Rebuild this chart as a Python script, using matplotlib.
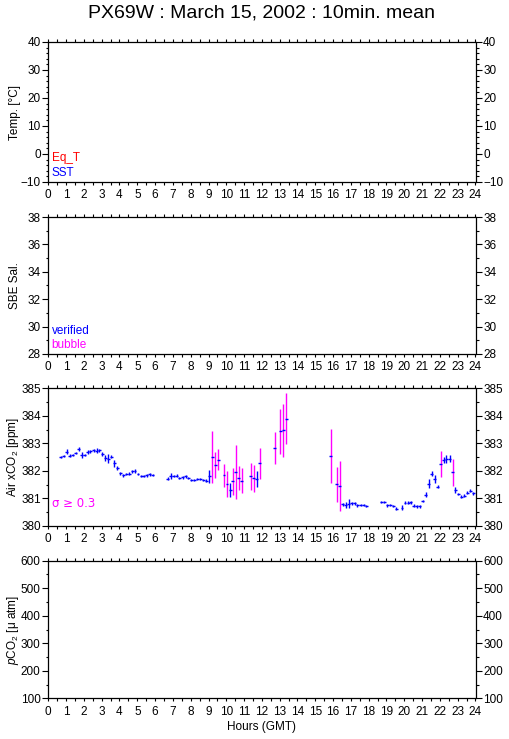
import matplotlib
matplotlib.use("Agg")
import matplotlib.pyplot as plt
from matplotlib.ticker import MultipleLocator
import numpy as np

plt.rcParams['font.family'] = ['Liberation Sans', 'DejaVu Sans']
plt.rcParams['mathtext.fontset'] = 'custom'
plt.rcParams['mathtext.rm'] = 'Liberation Sans'
plt.rcParams['mathtext.it'] = 'Liberation Sans:italic'

title = "PX69W : March 15, 2002 : 10min. mean"

# Air xCO2 10-min means (hours GMT, ppm, std)
hours = [0.71, 0.87, 1.04, 1.21, 1.37, 1.54, 1.71, 1.87, 2.04, 2.21, 2.37, 2.54,
         2.71, 2.87, 3.04, 3.21, 3.37, 3.54, 3.71, 3.87, 4.04, 4.21, 4.37, 4.54,
         4.71, 4.87, 5.04, 5.21, 5.37, 5.54, 5.71, 5.87,
         6.71, 6.87, 7.04, 7.21, 7.37, 7.54, 7.71, 7.87, 8.04, 8.21, 8.37, 8.54,
         8.71, 8.87, 9.04, 9.21, 9.37, 9.54, 9.87, 10.04, 10.21, 10.37, 10.54,
         10.71, 10.87, 11.37, 11.54, 11.71, 11.87, 12.71, 13.04, 13.21, 13.37,
         15.87, 16.21, 16.37, 16.54, 16.71, 16.87, 17.04, 17.21, 17.37, 17.54,
         17.71, 17.87, 18.71, 18.87, 19.04, 19.21, 19.37, 19.54, 19.87, 20.04,
         20.21, 20.37, 20.54, 20.71, 20.87, 21.04, 21.21, 21.37, 21.54, 21.71,
         21.87, 22.04, 22.21, 22.37, 22.54, 22.71, 22.87, 23.04, 23.21, 23.37,
         23.54, 23.71, 23.87]
xco2 = [382.51, 382.53, 382.70, 382.55, 382.59, 382.65, 382.80, 382.58, 382.58,
        382.68, 382.71, 382.75, 382.74, 382.75, 382.60, 382.46, 382.45, 382.52,
        382.28, 382.10, 381.91, 381.84, 381.89, 381.90, 381.99, 382.00, 381.89,
        381.82, 381.83, 381.84, 381.88, 381.86,
        381.72, 381.83, 381.82, 381.83, 381.74, 381.77, 381.80, 381.74, 381.67,
        381.68, 381.70, 381.70, 381.67, 381.64, 381.80, 382.51, 382.21, 382.41,
        381.84, 381.53, 381.31, 381.62, 381.97, 381.75, 381.65, 381.80, 381.73,
        381.71, 382.27, 382.84, 383.44, 383.48, 383.90,
        382.55, 381.51, 381.46, 380.79, 380.76, 380.81, 380.82, 380.82, 380.75,
        380.75, 380.75, 380.73, 380.87, 380.87, 380.75, 380.75, 380.73, 380.63,
        380.67, 380.84, 380.84, 380.86, 380.74, 380.72, 380.72, 380.91, 381.14,
        381.53, 381.89, 381.72, 381.43, 382.25, 382.39, 382.42, 382.45, 381.95,
        381.31, 381.16, 381.07, 381.10, 381.21, 381.28, 381.19]
sigma = [0.04, 0.03, 0.08, 0.06, 0.04, 0.05, 0.08, 0.12, 0.05, 0.07, 0.05, 0.06,
         0.10, 0.05, 0.07, 0.10, 0.15, 0.06, 0.12, 0.08, 0.06, 0.05, 0.05, 0.06,
         0.05, 0.06, 0.04, 0.04, 0.04, 0.05, 0.06, 0.04,
         0.05, 0.11, 0.05, 0.06, 0.05, 0.05, 0.05, 0.04, 0.04, 0.04, 0.04, 0.04,
         0.04, 0.05, 0.24, 0.94, 0.47, 0.38, 0.41, 0.47, 0.24, 0.49, 0.98, 0.43,
         0.46, 0.50, 0.48, 0.28, 0.56, 0.58, 0.81, 0.96, 0.92,
         0.98, 0.63, 0.90, 0.05, 0.10, 0.17, 0.05, 0.05, 0.05, 0.04, 0.04, 0.04,
         0.05, 0.04, 0.05, 0.04, 0.04, 0.05, 0.08, 0.05, 0.05, 0.05, 0.05, 0.05,
         0.05, 0.05, 0.10, 0.16, 0.09, 0.15, 0.05, 0.48, 0.10, 0.14, 0.13, 0.50,
         0.12, 0.05, 0.04, 0.05, 0.06, 0.05, 0.05]

sigma_limit = 0.3
half_interval = 1.0 / 12.0  # +/- 5 min

panel_ylabels = ["Temp. [°C]", "SBE Sal.", "Air xCO$_2$ [ppm]", "$p$CO$_2$ [μ atm]"]
panel_ylims = [(-10, 40), (28, 38), (380, 385), (100, 600)]
panel_major = [10, 2, 1, 100]
panel_minor = [2, 1, 0.5, 50]
xticks = list(range(0, 25))

W, H = 509, 739
fig = plt.figure(figsize=(W / 100, H / 100), dpi=100)

panel_px = [(42, 182), (217, 354), (388.3, 526), (560.7, 698.3)]
left_px, right_px = 48.3, 475.5

blue = '#0000ff'
red = '#ff0000'
magenta = '#ff00ff'

axes = []
for i, (top, bot) in enumerate(panel_px):
    ax = fig.add_axes([left_px / W, 1 - bot / H, (right_px - left_px) / W, (bot - top) / H])
    ax.set_xlim(0, 24)
    ax.set_ylim(*panel_ylims[i])
    ax.set_xticks(xticks)
    ax.xaxis.set_minor_locator(MultipleLocator(0.5))
    ax.yaxis.set_major_locator(MultipleLocator(panel_major[i]))
    ax.yaxis.set_minor_locator(MultipleLocator(panel_minor[i]))
    ax.tick_params(axis='both', which='both', direction='out', top=True, right=True,
                   labelright=True, labelsize=8.5, width=0.8, colors='black')
    ax.tick_params(axis='y', which='major', length=4.0, pad=1.5)
    ax.tick_params(axis='y', which='minor', length=1.8)
    ax.tick_params(axis='x', which='both', length=2.4, pad=3)
    for s in ax.spines.values():
        s.set_linewidth(0.9)
    ax.set_ylabel(panel_ylabels[i], fontsize=8.5)
    ax.yaxis.set_label_coords(-0.064, 0.5)
    axes.append(ax)

axes[3].set_xlabel("Hours (GMT)", fontsize=8.5, labelpad=2)

# legends as text
axes[0].text(0.008, 0.17, "Eq_T", color=red, fontsize=8.5, transform=axes[0].transAxes, va='center')
axes[0].text(0.008, 0.065, "SST", color=blue, fontsize=8.5, transform=axes[0].transAxes, va='center')
axes[1].text(0.008, 0.17, "verified", color=blue, fontsize=8.5, transform=axes[1].transAxes, va='center')
axes[1].text(0.008, 0.065, "bubble", color=magenta, fontsize=8.5, transform=axes[1].transAxes, va='center')
axes[2].text(0.008, 0.16, "σ ≥ 0.3", color=magenta, fontsize=8.5, transform=axes[2].transAxes,
             va='center', family=['DejaVu Sans'])

# xCO2 data
ax = axes[2]
h = np.array(hours)
v = np.array(xco2)
s = np.array(sigma)
hi = s >= sigma_limit
lo = ~hi
ax.errorbar(h[lo], v[lo], yerr=s[lo], fmt='none', ecolor=blue, elinewidth=1.0, capsize=0)
ax.errorbar(h[hi], v[hi], yerr=s[hi], fmt='none', ecolor=magenta, elinewidth=1.0, capsize=0)
ax.errorbar(h, v, xerr=half_interval, fmt='none', ecolor=blue, elinewidth=1.0, capsize=0)

fig.text((left_px + right_px) / 2 / W, 1 - 13 / H, title, ha='center', va='center', fontsize=14)

fig.savefig("out.png", dpi=100)
